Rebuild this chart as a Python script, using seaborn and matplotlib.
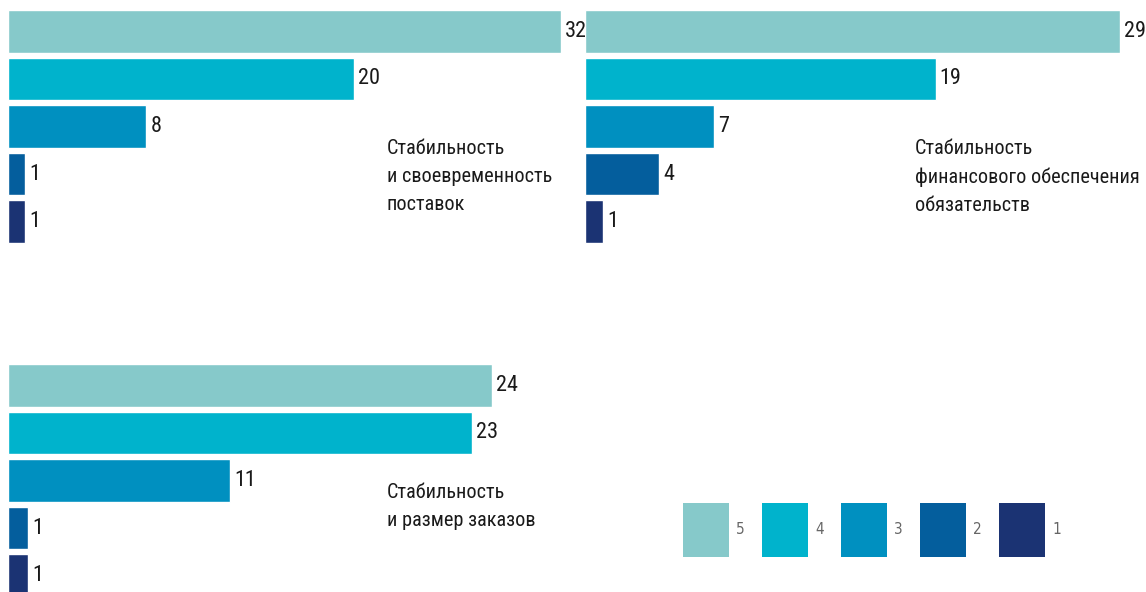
import matplotlib
matplotlib.use("Agg")
import matplotlib.pyplot as plt
from matplotlib.patches import Patch
import seaborn as sns
import pandas as pd

# Scores (5 = highest) and number of answers per score
scores = ["5", "4", "3", "2", "1"]
supply_counts = [32, 20, 8, 1, 1]
finance_counts = [29, 19, 7, 4, 1]
orders_counts = [24, 23, 11, 1, 1]

titles = [
    "Стабильность\nи своевременность\nпоставок",
    "Стабильность\nфинансового обеспечения\nобязательств",
    "Стабильность\nи размер заказов",
]

palette = ["#86C9CA", "#00B3CC", "#0090C0", "#045E9D", "#1B3373"]

sns.set_theme(style="white")
plt.rcParams["font.family"] = ["Roboto Condensed", "DejaVu Sans"]
plt.rcParams["font.stretch"] = "condensed"

W, H = 1146, 592
fig = plt.figure(figsize=(W / 100, H / 100), dpi=100)
fig.patch.set_facecolor("white")


def px_axes(left, top, right, bottom):
    return fig.add_axes([left / W, 1 - bottom / H, (right - left) / W, (bottom - top) / H])


def panel(ax, counts):
    df = pd.DataFrame({"score": scores, "count": counts})
    sns.barplot(data=df, x="count", y="score", hue="score", palette=palette,
                orient="h", width=0.9, legend=False, ax=ax, saturation=1)
    ax.set_xlim(0, max(counts))
    ax.set_ylim(len(scores) - 0.5, -0.5)
    for cont in ax.containers:
        ax.bar_label(cont, padding=3, fontsize=16, color="#1a1a1a")
    ax.set_axis_off()


# five rows, 47.5 px apart
ax1 = px_axes(8, 7.75, 561, 245.25)
panel(ax1, supply_counts)
ax2 = px_axes(585, 7.75, 1120, 245.25)
panel(ax2, finance_counts)
ax3 = px_axes(8, 361.75, 492, 599.25)
panel(ax3, orders_counts)

text_kw = dict(fontsize=14.6, color="#1a1a1a", va="top", ha="left", linespacing=1.6)
fig.text(387 / W, 1 - 139 / H, titles[0], **text_kw)
fig.text(915 / W, 1 - 139 / H, titles[1], **text_kw)
fig.text(387 / W, 1 - 483 / H, titles[2], **text_kw)

handles = [Patch(facecolor=c, edgecolor="none") for c in palette]
fig.legend(handles, scores, loc="center", bbox_to_anchor=(872 / W, 1 - 530 / H),
           ncol=5, frameon=False, handlelength=3.0, handleheight=5.15,
           handletextpad=0.5, columnspacing=1.1, labelcolor="#666666",
           prop={"family": "DejaVu Sans", "size": 11})

fig.savefig("out.png", dpi=100, facecolor="white")
